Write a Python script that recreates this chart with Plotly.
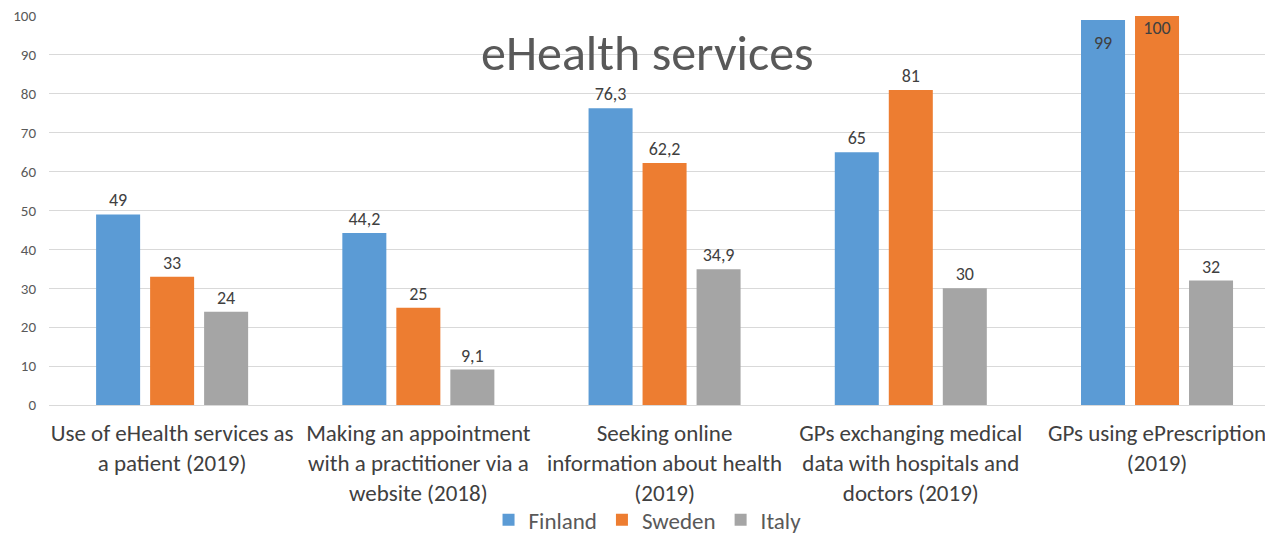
import plotly.graph_objects as go

categories = [
    "Use of eHealth services as<br>a patient (2019)",
    "Making an appointment<br>with a practitioner via a<br>website (2018)",
    "Seeking online<br>information about health<br>(2019)",
    "GPs exchanging medical<br>data with hospitals and<br>doctors (2019)",
    "GPs using ePrescription<br>(2019)",
]
finland = [49, 44.2, 76.3, 65, 99]
sweden = [33, 25, 62.2, 81, 100]
italy = [24, 9.1, 34.9, 30, 32]
y_ticks = list(range(0, 101, 10))

series = [("Finland", finland, "#5b9bd5", 24), ("Sweden", sweden, "#ed7d31", 6), ("Italy", italy, "#a5a5a5", 24)]

FONT = "Carlito, Lato, 'Open Sans', sans-serif"
TXT = "#404040"
BARGAP = 0.342

def fmt(v):
    s = ("%g" % v)
    return s.replace(".", ",")

xs = list(range(len(categories)))
fig = go.Figure()
for name, vals, col, _ in series:
    fig.add_trace(go.Bar(
        name=name, x=xs, y=vals,
        marker=dict(color=col, line=dict(width=0)),
        text=["" if v >= 95 else fmt(v) for v in vals], textposition="outside",
        textfont=dict(family=FONT, size=18, color=TXT),
        cliponaxis=False,
    ))
# labels drawn inside the top of the tallest bars
for name, vals, col, pad in series:
    fig.add_trace(go.Scatter(
        x=xs, y=[v if v >= 95 else None for v in vals], mode="markers+text",
        marker=dict(size=pad, opacity=0), text=[fmt(v) if v >= 95 else "" for v in vals],
        textposition="bottom center", textfont=dict(family=FONT, size=18, color=TXT),
        showlegend=False, hoverinfo="skip", cliponaxis=False,
    ))

# page body has an 8px margin, so the figure is 8px smaller than the window
fig.update_layout(
    width=1265, height=526,
    margin=dict(l=41, r=0, t=8, b=129, autoexpand=False),
    paper_bgcolor="white", plot_bgcolor="white",
    barmode="group", bargap=BARGAP, bargroupgap=0.185,
    scattermode="group", scattergap=BARGAP,
    font=dict(family=FONT, color=TXT),
    showlegend=True,
    legend=dict(orientation="h", x=0.489, xanchor="center", yref="container", y=0.027, yanchor="middle",
                font=dict(family=FONT, size=23, color="#595959"), bgcolor="rgba(0,0,0,0)",
                traceorder="normal"),
)
fig.add_annotation(text="eHealth services", xref="paper", yref="paper",
                   x=0.4886, y=0.907, xanchor="center", yanchor="middle", showarrow=False,
                   font=dict(family=FONT, size=50, color="#595959"))
fig.update_xaxes(
    tickmode="array", tickvals=xs, ticktext=categories,
    range=[-0.5, 4.471], showgrid=False, showline=False, automargin=False,
    tickfont=dict(family=FONT, size=23, color=TXT), ticks="", ticklabelstandoff=12,
)
fig.update_yaxes(
    range=[0, 100.01], tickvals=y_ticks, showgrid=True, gridcolor="#d9d9d9", gridwidth=1,
    zeroline=True, zerolinecolor="#d9d9d9", zerolinewidth=1, automargin=False,
    ticklabeloverflow="allow",
    tickfont=dict(family=FONT, size=15, color="#595959"), ticklabelstandoff=12,
)
fig.write_html("out.html")
